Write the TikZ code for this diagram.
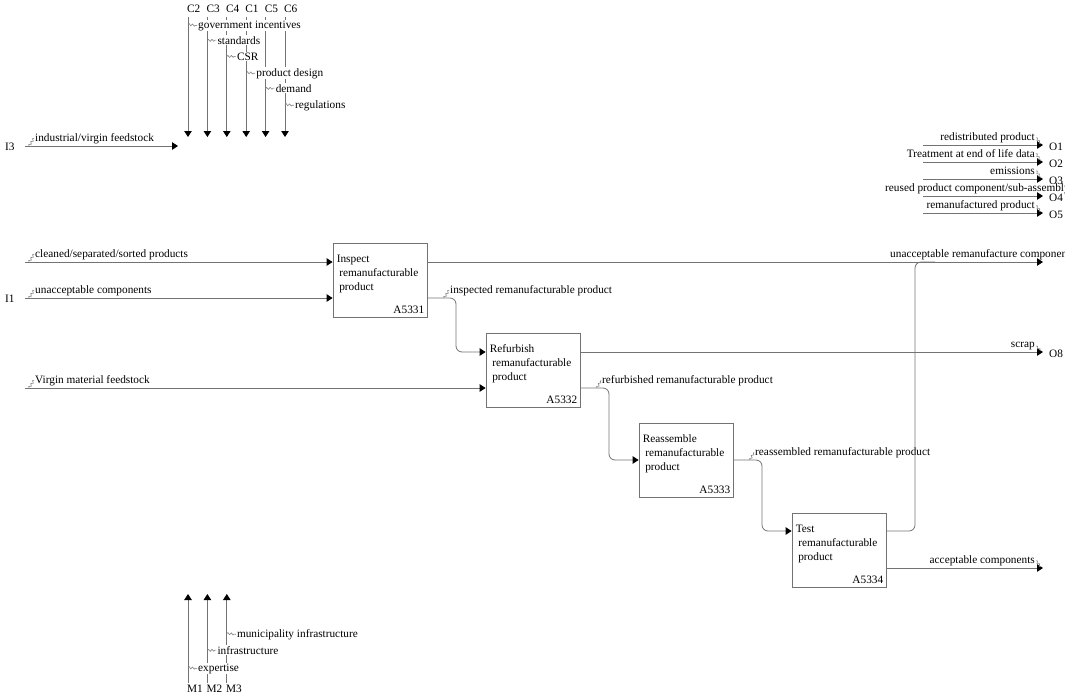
\documentclass[tikz,border=0pt]{standalone}
\usepackage{fontspec}
\setmainfont{Liberation Serif}
\usetikzlibrary{arrows.meta, decorations.pathmorphing, calc}
\definecolor{ideflink}{RGB}{115,115,115}
\definecolor{idefsquig}{RGB}{130,130,130}

\begin{document}
\begin{tikzpicture}[x=1pt, y=-1pt, font=\fontsize{11.3}{14}\selectfont,
  flow/.style={draw=ideflink, line width=0.8pt, -{Triangle[length=6pt, width=7.5pt, color=black]}},
  link/.style={draw=ideflink, line width=0.8pt},
  squig/.style={draw=idefsquig, line width=0.6pt, decorate, decoration={snake, segment length=3.5pt, amplitude=1pt}},
  act/.style={draw=ideflink, line width=0.8pt, minimum width=94pt, minimum height=74pt, inner sep=0pt},
  acttext/.style={anchor=north west, align=left, inner sep=0pt},
  actnum/.style={anchor=base east, inner sep=0pt},
  tag/.style={anchor=base west, inner sep=0pt},
  lbl/.style={anchor=base west, inner sep=1pt},
  rlbl/.style={anchor=base east, inner sep=1pt},
  cover/.style={lbl, fill=white}]

  \useasboundingbox (0,0) rectangle (1065,697);
  \clip (0,0) rectangle (1065,697);

  % Activities
  \node[act] (a1) at (380,280) {};
  \node[acttext] (a1txt) at ($(a1.north west)+(4,12)$) {Inspect\\\hspace*{2.5pt}remanufacturable\\\hspace*{2.5pt}product};
  \node[actnum] (a1num) at ($(a1.south east)+(-3,-4)$) {A5331};

  \node[act] (a2) at (533,370) {};
  \node[acttext] (a2txt) at ($(a2.north west)+(4,12)$) {Refurbish\\\hspace*{2.5pt}remanufacturable\\\hspace*{2.5pt}product};
  \node[actnum] (a2num) at ($(a2.south east)+(-3,-4)$) {A5332};

  \node[act] (a3) at (686,460) {};
  \node[acttext] (a3txt) at ($(a3.north west)+(4,12)$) {Reassemble\\\hspace*{2.5pt}remanufacturable\\\hspace*{2.5pt}product};
  \node[actnum] (a3num) at ($(a3.south east)+(-3,-4)$) {A5333};

  \node[act] (a4) at (839,550) {};
  \node[acttext] (a4txt) at ($(a4.north west)+(4,12)$) {Test\\\hspace*{2.5pt}remanufacturable\\\hspace*{2.5pt}product};
  \node[actnum] (a4num) at ($(a4.south east)+(-3,-4)$) {A5334};

  % Controls
  \foreach \n/\cx/\cn in {0/188/C2, 1/207.4/C3, 2/226.8/C4, 3/246.2/C1, 4/265.6/C5, 5/285/C6} {
    \node[tag] (ctag\n) at (\cx-1,12) {\cn};
    \coordinate (ctop\n) at (\cx,17);
    \coordinate (cend\n) at (\cx,137);
    \draw[flow] (ctop\n) -- (cend\n);
  }
  \foreach \n/\cx/\txt in {0/188/government incentives, 1/207.4/standards, 2/226.8/CSR, 3/246.2/product design, 4/265.6/demand, 5/285/regulations} {
    \node[cover] (clab\n) at (\cx+9,28+16*\n) {\txt};
    \draw[squig] (\cx,24.5+16*\n) -- (clab\n.west);
  }

  % Mechanisms
  \foreach \n/\mx/\mn in {0/188/M1, 1/207.4/M2, 2/226.8/M3} {
    \node[tag] (mtag\n) at (\mx-1,692) {\mn};
    \coordinate (mbot\n) at (\mx,683);
    \coordinate (mend\n) at (\mx,594);
    \draw[flow] (mbot\n) -- (mend\n);
  }
  \foreach \n/\mx/\txt in {0/188/expertise, 1/207.4/infrastructure, 2/226.8/municipality infrastructure} {
    \node[cover] (mlab\n) at (\mx+9,671-17*\n) {\txt};
    \draw[squig] (\mx,667.5-17*\n) -- (mlab\n.west);
  }

  % Inputs
  \node[tag] (i3tag) at (5,150) {I3};
  \coordinate (i3s) at (25,146);
  \coordinate (i3e) at (178,146);
  \draw[flow] (i3s) -- (i3e);
  \node[lbl] (i3lab) at (34,141) {industrial/virgin feedstock};
  \draw[squig] (29,146) -- (i3lab.west);

  \coordinate (i2s) at (25,262);
  \draw[flow] (i2s) -- (i2s -| a1.west);
  \node[lbl] (i2lab) at (34,257) {cleaned/separated/sorted products};
  \draw[squig] (29,262) -- (i2lab.west);

  \node[tag] (i1tag) at (5,302) {I1};
  \coordinate (i1s) at (25,298);
  \draw[flow] (i1s) -- (i1s -| a1.west);
  \node[lbl] (i1lab) at (34,293) {unacceptable components};
  \draw[squig] (29,298) -- (i1lab.west);

  \coordinate (i4s) at (25,388);
  \draw[flow] (i4s) -- (i4s -| a2.west);
  \node[lbl] (i4lab) at (34,383) {Virgin material feedstock};
  \draw[squig] (29,388) -- (i4lab.west);

  % Flows between activities
  \draw[flow, rounded corners=6pt] (a1.east |- i1s) -- (456,298) -- (456,352) -- (a2.west |- 0,352);
  \node[lbl] (f1lab) at (449,293) {inspected remanufacturable product};
  \draw[squig] (444,298) -- (f1lab.west);

  \draw[flow, rounded corners=6pt] (a2.east |- i4s) -- (609,388) -- (609,460) -- (a3.west |- 0,460);
  \node[lbl] (f2lab) at (601,383) {refurbished remanufacturable product};
  \draw[squig] (597,388) -- (f2lab.west);

  \draw[flow, rounded corners=6pt] (a3.east |- 0,460) -- (762,460) -- (762,531) -- (a4.west |- 0,531);
  \node[lbl] (f3lab) at (754,455) {reassembled remanufacturable product};
  \draw[squig] (750,460) -- (f3lab.west);

  % Outputs
  \coordinate (o6) at (1043,262);
  \draw[flow] (a1.east |- i2s) -- (o6);
  \draw[link, rounded corners=6pt] (a4.east |- 0,531) -- (915,531) -- (915,262) -- (935,262);
  \node[lbl] (o6lab) at (889,257.5) {unacceptable remanufacture components};

  \coordinate (o8) at (1043,352);
  \draw[flow] (a2.east |- o8) -- (o8);
  \node[rlbl] (o8lab) at (1036,347.5) {scrap};
  \draw[squig] (o8lab.east) -- (1041,351);
  \node[tag] (o8tag) at (1049,357) {O8};

  \coordinate (o7) at (1043,568);
  \draw[flow] (a4.east |- o7) -- (o7);
  \node[rlbl] (o7lab) at (1036,563.5) {acceptable components};
  \draw[squig] (o7lab.east) -- (1041,567);

  \foreach \n/\oy/\txt in {1/145/redistributed product, 2/162/Treatment at end of life data, 3/179/emissions, 5/213/remanufactured product} {
    \coordinate (os\n) at (923,\oy);
    \coordinate (oe\n) at (1043,\oy);
    \draw[flow] (os\n) -- (oe\n);
    \node[rlbl] (olab\n) at (1036,\oy-4.5) {\txt};
    \draw[squig] (olab\n.east) -- (1041,\oy-1);
    \node[tag] (otag\n) at (1049,\oy+5) {O\n};
  }
  \coordinate (os4) at (923,196);
  \coordinate (oe4) at (1043,196);
  \draw[flow] (os4) -- (oe4);
  \node[tag] (otag4) at (1049,201) {O4};
  \node[lbl] (olab4) at (884,191.5) {reused product component/sub-assembly};

\end{tikzpicture}
\end{document}
